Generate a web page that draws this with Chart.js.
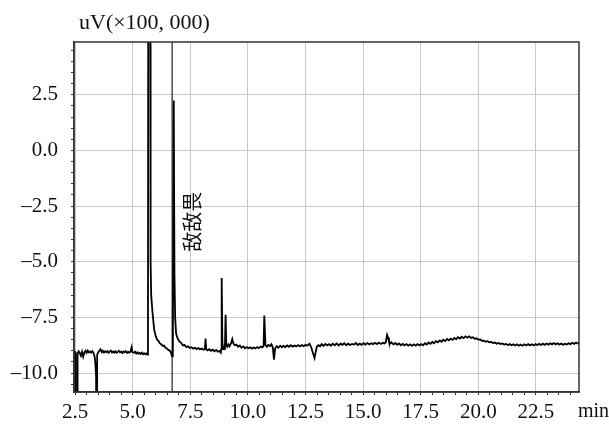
<!DOCTYPE html>
<html>
<head>
<meta charset="utf-8">
<script src="https://cdn.jsdelivr.net/npm/chart.js@4.4.1/dist/chart.umd.min.js"></script>
<style>
  html, body { margin: 0; padding: 0; background: #fff; }
  canvas { display: block; }
</style>
</head>
<body>
<canvas id="chart" width="609" height="429"></canvas>
<script>
const retentionTimes = [
  2.45, 2.50, 2.52, 2.525, 2.60, 2.605, 2.65, 2.70, 2.75, 2.80, 2.85, 2.90, 2.95, 3.00, 3.05, 3.10, 3.15, 3.20, 3.25, 3.30,
  3.35, 3.38, 3.41, 3.415, 3.45, 3.455, 3.50, 3.55, 3.60, 3.65, 3.70, 3.75, 3.80, 3.85, 3.90, 3.95, 4.00, 4.05, 4.10, 4.15,
  4.20, 4.25, 4.30, 4.35, 4.40, 4.45, 4.50, 4.55, 4.60, 4.65, 4.70, 4.75, 4.80, 4.85, 4.90, 4.95, 4.98, 5.05, 5.10, 5.15,
  5.20, 5.25, 5.30, 5.35, 5.40, 5.45, 5.50, 5.55, 5.60, 5.64, 5.66, 5.69, 5.73, 5.76, 5.775, 5.80, 5.86, 5.93, 6.00, 6.06,
  6.12, 6.17, 6.23, 6.30, 6.36, 6.42, 6.48, 6.54, 6.60, 6.65, 6.69, 6.71, 6.74, 6.78, 6.81, 6.84, 6.88, 6.93, 6.98, 7.03,
  7.10, 7.17, 7.25, 7.32, 7.40, 7.47, 7.55, 7.62, 7.70, 7.77, 7.85, 7.92, 8.00, 8.07, 8.13, 8.16, 8.19, 8.25, 8.32, 8.40,
  8.47, 8.55, 8.62, 8.70, 8.77, 8.82, 8.84, 8.86, 8.89, 8.92, 8.96, 9.00, 9.03, 9.06, 9.10, 9.15, 9.20, 9.27, 9.32, 9.37,
  9.43, 9.50, 9.57, 9.65, 9.72, 9.80, 9.87, 9.95, 10.02, 10.10, 10.17, 10.25, 10.32, 10.40, 10.47, 10.55, 10.62, 10.68, 10.71, 10.76,
  10.82, 10.88, 10.96, 11.02, 11.08, 11.13, 11.18, 11.25, 11.32, 11.40, 11.47, 11.54, 11.62, 11.70, 11.78, 11.86, 11.94, 12.02, 12.10, 12.18,
  12.26, 12.34, 12.42, 12.50, 12.58, 12.67, 12.75, 12.82, 12.89, 12.94, 12.99, 13.06, 13.13, 13.20, 13.28, 13.36, 13.44, 13.52, 13.60, 13.68,
  13.76, 13.85, 13.94, 14.02, 14.10, 14.18, 14.27, 14.35, 14.43, 14.52, 14.60, 14.68, 14.77, 14.85, 14.93, 15.02, 15.10, 15.18, 15.27, 15.35,
  15.43, 15.52, 15.60, 15.68, 15.77, 15.85, 15.92, 15.98, 16.04, 16.08, 16.12, 16.17, 16.22, 16.32, 16.40, 16.48, 16.56, 16.64, 16.72, 16.80,
  16.88, 16.96, 17.04, 17.12, 17.20, 17.28, 17.36, 17.44, 17.52, 17.60, 17.68, 17.76, 17.84, 17.92, 18.00, 18.08, 18.16, 18.24, 18.32, 18.40,
  18.48, 18.56, 18.64, 18.72, 18.80, 18.88, 18.96, 19.04, 19.12, 19.20, 19.28, 19.36, 19.44, 19.52, 19.60, 19.68, 19.76, 19.84, 19.92, 20.00,
  20.08, 20.16, 20.24, 20.32, 20.40, 20.48, 20.56, 20.64, 20.72, 20.80, 20.88, 20.96, 21.04, 21.12, 21.20, 21.28, 21.36, 21.44, 21.52, 21.60,
  21.68, 21.76, 21.84, 21.92, 22.00, 22.08, 22.16, 22.24, 22.32, 22.40, 22.48, 22.56, 22.64, 22.72, 22.80, 22.88, 22.96, 23.04, 23.12, 23.20,
  23.28, 23.36, 23.44, 23.52, 23.60, 23.68, 23.76, 23.84, 23.92, 24.00, 24.08, 24.16, 24.24, 24.32, 24.40,
];

const signal = [
  -9.00, -9.06, -9.10, -11.5, -11.5, -9.12, -9.02, -9.10, -9.22, -9.04, -9.26, -9.08, -9.00, -9.09, -8.99, -9.07, -9.03, -9.08, -9.01, -9.10,
  -9.28, -9.60, -10.20, -11.5, -11.5, -9.18, -9.06, -9.00, -8.93, -9.06, -9.00, -9.08, -9.02, -9.06, -9.01, -9.09, -9.04, -8.99, -9.07, -9.03,
  -9.08, -9.02, -9.09, -9.05, -9.00, -9.07, -9.04, -9.10, -9.03, -9.06, -9.01, -9.09, -9.05, -9.08, -9.03, -8.84, -9.06, -9.09, -9.04, -9.12,
  -9.07, -9.13, -9.09, -9.14, -9.08, -9.15, -9.11, -9.16, -9.12, -9.17, -9.15, 30.0, 12.0, 4.8, -5.0, -6.5, -7.3, -8.05, -8.35, -8.50,
  -8.56, -8.66, -8.70, -8.78, -8.76, -8.86, -8.89, -8.96, -8.99, -9.05, -9.20, -9.25, -9.10, 2.24, -5.5, -7.5, -8.20, -8.40, -8.50, -8.58,
  -8.64, -8.75, -8.74, -8.83, -8.80, -8.87, -8.84, -8.90, -8.86, -8.92, -8.88, -8.93, -8.90, -8.95, -8.92, -8.45, -8.94, -8.98, -8.93, -9.00,
  -8.95, -9.02, -8.96, -9.04, -9.01, -9.08, -8.92, -5.73, -8.60, -8.92, -8.85, -8.89, -7.38, -8.75, -8.82, -8.71, -8.80, -8.66, -8.47, -8.68,
  -8.75, -8.72, -8.82, -8.76, -8.86, -8.80, -8.89, -8.83, -8.88, -8.84, -8.90, -8.85, -8.89, -8.83, -8.88, -8.81, -8.85, -8.78, -7.42, -8.74,
  -8.82, -8.74, -8.79, -8.71, -8.85, -9.40, -8.90, -8.79, -8.86, -8.77, -8.84, -8.78, -8.83, -8.76, -8.82, -8.75, -8.81, -8.76, -8.80, -8.74,
  -8.80, -8.74, -8.79, -8.73, -8.77, -8.68, -8.85, -9.10, -9.32, -9.05, -8.82, -8.75, -8.80, -8.70, -8.78, -8.69, -8.76, -8.70, -8.77, -8.68,
  -8.75, -8.67, -8.76, -8.68, -8.73, -8.66, -8.75, -8.68, -8.74, -8.69, -8.72, -8.65, -8.74, -8.68, -8.73, -8.66, -8.72, -8.65, -8.71, -8.66,
  -8.70, -8.64, -8.70, -8.63, -8.69, -8.64, -8.67, -8.63, -8.28, -8.40, -8.58, -8.68, -8.62, -8.71, -8.65, -8.73, -8.67, -8.75, -8.69, -8.76,
  -8.70, -8.77, -8.71, -8.78, -8.71, -8.77, -8.70, -8.76, -8.70, -8.75, -8.66, -8.72, -8.63, -8.69, -8.60, -8.66, -8.57, -8.62, -8.53, -8.59,
  -8.50, -8.56, -8.47, -8.53, -8.45, -8.51, -8.42, -8.48, -8.39, -8.45, -8.37, -8.43, -8.35, -8.41, -8.35, -8.42, -8.39, -8.46, -8.44, -8.50,
  -8.49, -8.55, -8.54, -8.59, -8.57, -8.62, -8.60, -8.65, -8.63, -8.68, -8.65, -8.70, -8.67, -8.72, -8.69, -8.74, -8.70, -8.75, -8.71, -8.76,
  -8.71, -8.77, -8.72, -8.77, -8.71, -8.76, -8.70, -8.75, -8.71, -8.76, -8.70, -8.74, -8.69, -8.74, -8.68, -8.73, -8.67, -8.72, -8.66, -8.71,
  -8.65, -8.71, -8.66, -8.72, -8.67, -8.73, -8.68, -8.72, -8.66, -8.70, -8.64, -8.69, -8.63, -8.67, -8.65,
];

// peak marker line (retention time of 敌敌畏)
const markerTimes = [6.71, 6.71];
const markerValues = [-12, 6];

const xTickLabels = [2.5, 5.0, 7.5, 10.0, 12.5, 15.0, 17.5, 20.0, 22.5];
const yTickLabels = [-10.0, -7.5, -5.0, -2.5, 0.0, 2.5];

const peakLabel = { text: '敌敌畏', x: 7.61, y: -3.2 };

const serif = '"Liberation Serif", "Times New Roman", serif';
const gridColor = '#c8c8c8';
const axisColor = '#333';

const isMajor = (value, list) => list.some(v => Math.abs(v - value) < 1e-6);

const fmt = v => (v < 0 ? '\u2013' : '') + Math.abs(v).toFixed(1);

const minorTicks = (from, to) => {
  const ticks = [];
  for (let v = from; v <= to + 1e-9; v += 0.5) ticks.push({ value: Math.round(v * 10) / 10 });
  return ticks;
};

const decorations = {
  id: 'decorations',
  afterDraw(chart) {
    const { ctx, chartArea, scales } = chart;
    ctx.save();
    ctx.strokeStyle = axisColor;
    ctx.lineWidth = 1.5;
    ctx.strokeRect(chartArea.left, chartArea.top, chartArea.right - chartArea.left, chartArea.bottom - chartArea.top);

    ctx.fillStyle = '#111';
    ctx.textBaseline = 'middle';
    ctx.textAlign = 'left';
    ctx.font = '22px ' + serif;
    ctx.fillText('uV(\u00d7100, 000)', 79, 23);
    ctx.font = '20px ' + serif;
    ctx.fillText('min', 578, 412);

    const px = scales.x.getPixelForValue(peakLabel.x);
    const py = scales.y.getPixelForValue(peakLabel.y);
    ctx.translate(px, py);
    ctx.rotate(-Math.PI / 2);
    ctx.textAlign = 'center';
    ctx.font = '20px "Noto Sans CJK SC"';
    ctx.fillText(peakLabel.text, 0, 0);
    ctx.restore();
  },
};

new Chart(document.getElementById('chart'), {
  type: 'line',
  data: {
    datasets: [
      {
        data: retentionTimes.map((t, i) => ({ x: t, y: signal[i] })),
        borderColor: '#000',
        borderWidth: 1.8,
        pointRadius: 0,
        tension: 0,
        clip: 0,
      },
      {
        data: markerTimes.map((t, i) => ({ x: t, y: markerValues[i] })),
        borderColor: '#222',
        borderWidth: 1.2,
        pointRadius: 0,
        clip: 0,
      },
    ],
  },
  options: {
    responsive: false,
    animation: false,
    devicePixelRatio: 1,
    layout: { padding: { top: 42, right: 30, left: 0, bottom: 0 } },
    plugins: {
      legend: { display: false },
      tooltip: { enabled: false },
    },
    scales: {
      x: {
        type: 'linear',
        min: 2.45,
        max: 24.37,
        afterBuildTicks: scale => { scale.ticks = minorTicks(2.5, 24.0); },
        afterFit: scale => { scale.height = 37; },
        grid: {
          color: ctx => (isMajor(ctx.tick.value, xTickLabels) ? gridColor : 'rgba(0,0,0,0)'),
          tickColor: axisColor,
          tickLength: 3,
          lineWidth: 1,
        },
        border: { color: axisColor, width: 1.5 },
        ticks: {
          autoSkip: false,
          maxRotation: 0,
          padding: 5,
          color: '#111',
          font: { family: serif, size: 21 },
          callback: v => (isMajor(v, xTickLabels) ? v.toFixed(1) : ''),
        },
      },
      y: {
        type: 'linear',
        min: -10.85,
        max: 4.87,
        afterBuildTicks: scale => { scale.ticks = minorTicks(-10.5, 4.5); },
        afterFit: scale => { scale.width = 74; },
        grid: {
          color: ctx => (isMajor(ctx.tick.value, yTickLabels) ? gridColor : 'rgba(0,0,0,0)'),
          tickColor: axisColor,
          tickLength: 3,
          lineWidth: 1,
        },
        border: { color: axisColor, width: 1.5 },
        ticks: {
          autoSkip: false,
          padding: 13,
          color: '#111',
          font: { family: serif, size: 21 },
          callback: v => (isMajor(v, yTickLabels) ? fmt(v) : ''),
        },
      },
    },
  },
  plugins: [decorations],
});
</script>
</body>
</html>
